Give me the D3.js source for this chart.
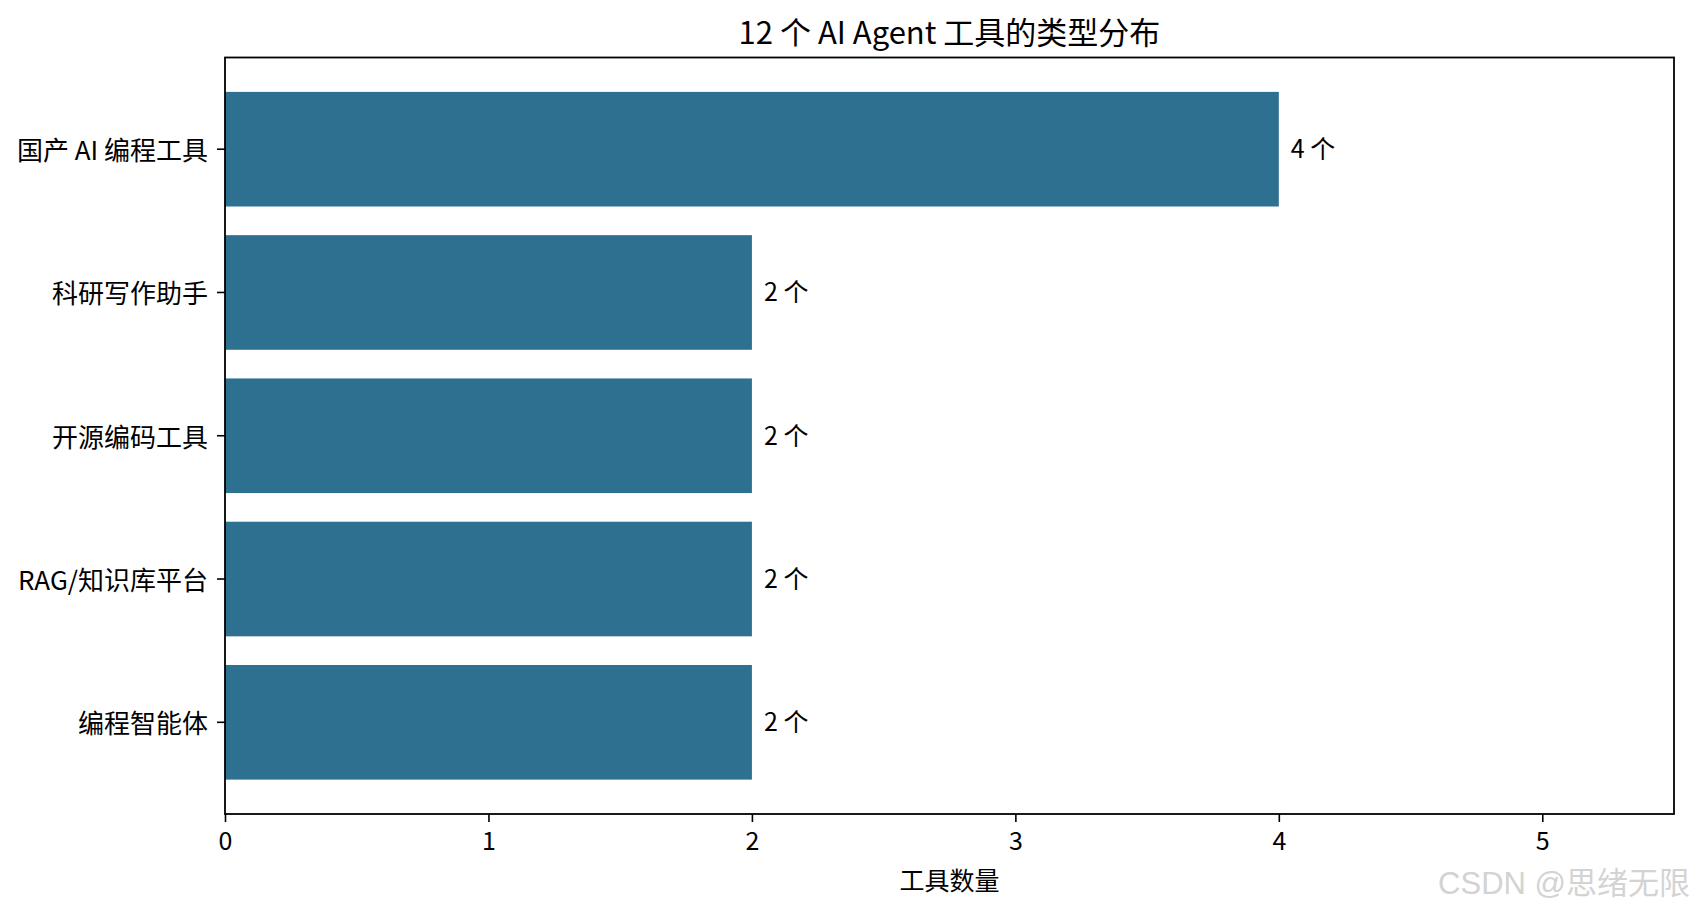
<!DOCTYPE html>
<html>
<head>
<meta charset="utf-8">
<script src="https://cdn.jsdelivr.net/npm/d3@7"></script>
<style>
  html, body { margin: 0; padding: 0; background: #ffffff; }
  svg { display: block; }
  text { font-family: "Noto Sans CJK SC", "Noto Sans", sans-serif; fill: #000; }
</style>
</head>
<body>
<script>
// ---- data (top to bottom) ----
const categories = ["国产 AI 编程工具", "科研写作助手", "开源编码工具", "RAG/知识库平台", "编程智能体"];
const counts = [4, 2, 2, 2, 2];
const xTicks = [0, 1, 2, 3, 4, 5];
const titleText = "12 个 AI Agent 工具的类型分布";
const xLabelText = "工具数量";
const unitText = "个";
const watermarkText = "CSDN @思绪无限";

const W = 1692, H = 911;
const margin = { left: 225, right: 1674, top: 57.5, bottom: 814 };
const barColor = "#2e7090";

const svg = d3.select("body").append("svg").attr("width", W).attr("height", H);

const x = d3.scaleLinear().domain([0, 5.5]).range([margin.left, margin.right]);
const y = d3.scaleBand().domain(categories).range([margin.top, margin.bottom])
  .paddingInner(0.2).paddingOuter(0.24);

const data = categories.map((c, i) => ({ cat: c, v: counts[i] }));

// bars
svg.append("g").selectAll("rect").data(data).join("rect")
  .attr("x", x(0))
  .attr("y", d => y(d.cat))
  .attr("width", d => x(d.v) - x(0))
  .attr("height", y.bandwidth())
  .attr("fill", barColor);

// value labels
svg.append("g").selectAll("text").data(data).join("text")
  .attr("x", d => x(d.v) + 12)
  .attr("y", d => y(d.cat) + y.bandwidth() / 2)
  .attr("dy", "0.36em")
  .attr("font-size", 25)
  .text(d => d.v + " " + unitText);

// x axis
const xAxis = svg.append("g")
  .attr("transform", `translate(0,${margin.bottom})`)
  .call(d3.axisBottom(x).tickValues(xTicks).tickFormat(d3.format("d")).tickSize(8).tickPadding(10));
xAxis.select(".domain").remove();
xAxis.selectAll(".tick line").attr("stroke", "#000").attr("stroke-width", 1.6);
xAxis.selectAll(".tick text").attr("font-size", 25).attr("font-family", "Noto Sans CJK SC, sans-serif");

// y axis
const yAxis = svg.append("g")
  .attr("transform", `translate(${margin.left},0)`)
  .call(d3.axisLeft(y).tickSize(8).tickPadding(9));
yAxis.select(".domain").remove();
yAxis.selectAll(".tick line").attr("stroke", "#000").attr("stroke-width", 1.6);
yAxis.selectAll(".tick text").attr("font-size", 26).attr("dy", "0.42em")
  .attr("font-family", "Noto Sans CJK SC, sans-serif");

// frame
svg.append("rect")
  .attr("x", margin.left).attr("y", margin.top)
  .attr("width", margin.right - margin.left).attr("height", margin.bottom - margin.top)
  .attr("fill", "none").attr("stroke", "#000").attr("stroke-width", 1.8);

// title
svg.append("text")
  .attr("x", (margin.left + margin.right) / 2).attr("y", 43.5)
  .attr("text-anchor", "middle").attr("font-size", 31)
  .text(titleText);

// x label
svg.append("text")
  .attr("x", (margin.left + margin.right) / 2).attr("y", 890)
  .attr("text-anchor", "middle").attr("font-size", 25)
  .text(xLabelText);

// watermark
svg.append("text")
  .attr("x", 1690).attr("y", 894)
  .attr("text-anchor", "end").attr("font-size", 31)
  .style("fill", "#d3d3d3")
  .style("font-family", "'Liberation Sans', 'Noto Sans CJK SC', sans-serif")
  .text(watermarkText);
</script>
</body>
</html>
